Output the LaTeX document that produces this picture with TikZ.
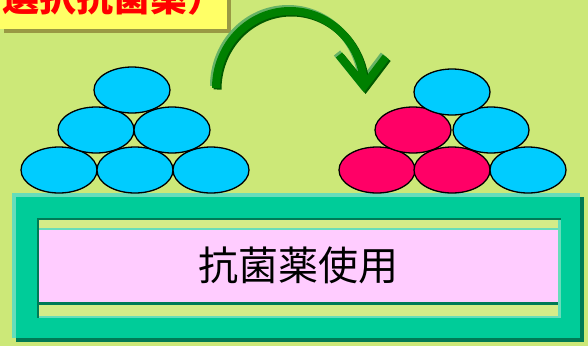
\documentclass[tikz,border=0pt]{standalone}
\usepackage{fontspec}
\newfontfamily\cjk{Noto Sans CJK JP}
\usetikzlibrary{shapes.geometric}
\definecolor{bg}{HTML}{CCE878}
\definecolor{innerbg}{HTML}{D4EC88}
\definecolor{titleyellow}{HTML}{FFFF66}
\definecolor{titleshadow}{HTML}{999944}
\definecolor{ballblue}{HTML}{00CCFF}
\definecolor{ballred}{HTML}{FF0066}
\definecolor{framegreen}{HTML}{00CC99}
\definecolor{framelight}{HTML}{66DDBB}
\definecolor{framedark}{HTML}{007A55}
\definecolor{panelpink}{HTML}{FFCCFF}
\definecolor{arrowgreen}{HTML}{008000}
\definecolor{arrowlight}{HTML}{66B366}
\definecolor{arrowdark}{HTML}{005A00}
\def\myarrowpath{plot[domain=180:1.5,samples=80,smooth] ({290+74*cos(\x)},{88-77*sin(\x)}) (339,55) -- (364,86) -- (386,57)}
\begin{document}
\begin{tikzpicture}[x=1pt,y=-1pt,
  ball/.style={ellipse, draw=black, line width=1.3pt, minimum width=76pt, minimum height=46pt, inner sep=0pt},
  blueball/.style={ball, fill=ballblue},
  redball/.style={ball, fill=ballred},
  arrowstroke/.style={line width=8pt, miter limit=10}]
\clip (0,0) rectangle (588,346);
\fill[bg] (0,0) rectangle (588,346);

% title box
\fill[titleshadow] (4,-5) rectangle (231,33);
\fill[titleyellow] (-5,-5) rectangle (227,29);
\node[anchor=base west, inner sep=0pt, text=red, font=\cjk\bfseries\fontsize{37}{37}\selectfont] (title) at (2,11) {選択抗菌薬）};

% arrow
\begin{scope}[shift={(-2,-2)}]
  \draw[arrowstroke, arrowlight] \myarrowpath;
\end{scope}
\begin{scope}[shift={(1.5,1.5)}]
  \draw[arrowstroke, arrowdark] \myarrowpath;
\end{scope}
\draw[arrowstroke, arrowgreen] \myarrowpath;

% frame
\fill[framedark] (16,197) rectangle (584,342);
\fill[framegreen] (12,193) rectangle (580,338);
\fill[framelight] (12,193) rectangle (580,197);
\fill[framelight] (12,193) rectangle (16,338);
\fill[innerbg] (37,218) rectangle (561,318);
\fill[framelight] (558,218) rectangle (561,318);
\fill[framelight] (37,316) rectangle (561,318);
\fill[framedark] (37,218) rectangle (561,220);
\fill[framedark] (37,218) rectangle (39,318);
\fill[framelight] (39,228) rectangle (558,230);
\fill[panelpink] (39,230) rectangle (558,302);
\fill[framedark] (39,302) rectangle (558,305);
\node[font=\cjk\fontsize{40}{40}\selectfont, inner sep=0pt] (label) at (298,265) {抗菌薬使用};

% left pyramid
\node[blueball] (l1) at (59,170) {};
\node[blueball] (l2) at (135,170) {};
\node[blueball] (l3) at (211,170) {};
\node[blueball] (l4) at (96,130) {};
\node[blueball] (l5) at (172,130) {};
\node[blueball] (l6) at (132,90) {};

% right pyramid
\node[redball] (r1) at (377,170) {};
\node[redball] (r2) at (452,170) {};
\node[blueball] (r3) at (528,170) {};
\node[redball] (r4) at (413,130) {};
\node[blueball] (r5) at (491,130) {};
\node[blueball] (r6) at (452,92) {};
\end{tikzpicture}
\end{document}
